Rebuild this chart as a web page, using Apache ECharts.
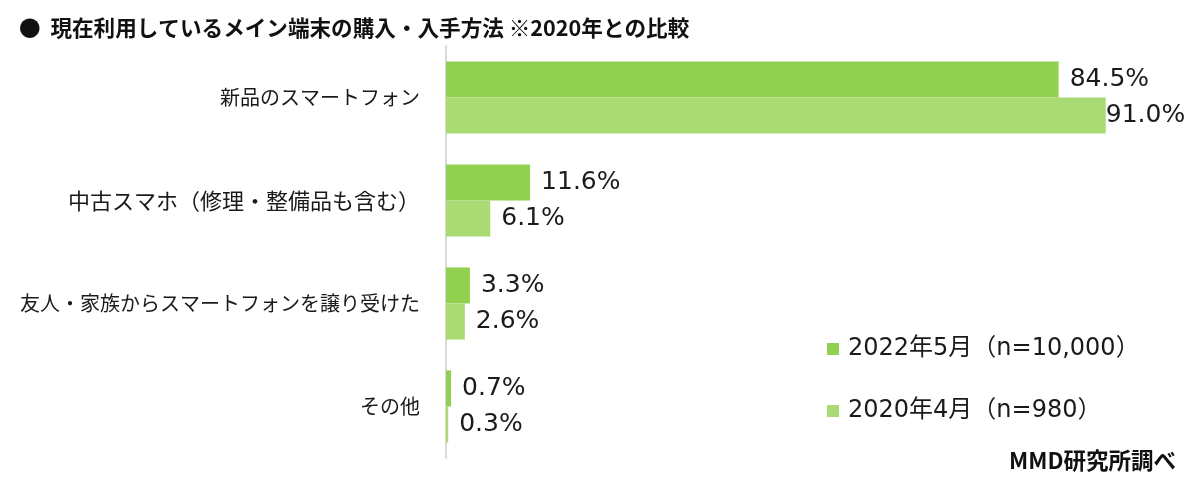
<!DOCTYPE html>
<html><head><meta charset="utf-8">
<script src="https://cdn.jsdelivr.net/npm/echarts@6/dist/echarts.min.js"></script>
<style>html,body{margin:0;padding:0;background:#fff}#c{width:1200px;height:486px}</style>
</head><body><div id="c"></div>
<script>
const categories = ['新品のスマートフォン','中古スマホ（修理・整備品も含む）','友人・家族からスマートフォンを譲り受けた','その他'];
const series2022 = [84.5, 11.6, 3.3, 0.7];
const series2020 = [91.0, 6.1, 2.6, 0.3];
const seriesNames = ['2022年5月（n=10,000）','2020年4月（n=980）'];
const FONT = '"DejaVu Sans", "Noto Sans CJK JP", sans-serif';
const CJK = '"Noto Sans CJK JP", sans-serif';
const chart = echarts.init(document.getElementById('c'));
function lbl(){return {show:true,position:'right',distance:11,fontSize:25,color:'#1a1a1a',fontFamily:FONT,formatter:p=>p.value.toFixed(1)+'%'};}
chart.setOption({
  animation:false,
  textStyle:{fontFamily:FONT},
  title:{text:'●  現在利用しているメイン端末の購入・入手方法 ※2020年との比較',left:14,top:12,textStyle:{fontSize:21.6,fontWeight:'bold',color:'#111',fontFamily:CJK}},
  legend:{orient:'vertical',left:822,top:332,itemGap:38,itemWidth:12,itemHeight:12,icon:'rect',
    textStyle:{fontSize:24,color:'#1a1a1a',fontFamily:FONT,padding:[0,0,0,4]},data:seriesNames},
  graphic:[{type:'text',right:24,top:449,style:{text:'MMD研究所調べ',fontSize:22.5,fontWeight:'bold',fill:'#111',fontFamily:CJK}}],
  grid:{left:446,right:29,top:46,bottom:28},
  xAxis:{type:'value',min:0,max:100,show:false},
  yAxis:{type:'category',inverse:true,data:categories,
    axisLine:{show:true,lineStyle:{color:'#d9d9d9',width:2}},axisTick:{show:false},
    axisLabel:{fontSize:20,color:'#1a1a1a',margin:26,fontFamily:CJK,
      formatter:(v,i)=>i===1?'{w|'+v+'}':v,
      rich:{w:{fontSize:22,color:'#1a1a1a',fontFamily:CJK}}}},
  series:[
    {name:seriesNames[0],type:'bar',data:series2022,barGap:'0%',barCategoryGap:'30%',itemStyle:{color:'#92d050'},label:lbl()},
    {name:seriesNames[1],type:'bar',data:series2020.map((v,i)=>i===0?{value:v,label:{distance:0}}:v),itemStyle:{color:'#a9da74'},label:lbl()}
  ]
});
</script></body></html>
